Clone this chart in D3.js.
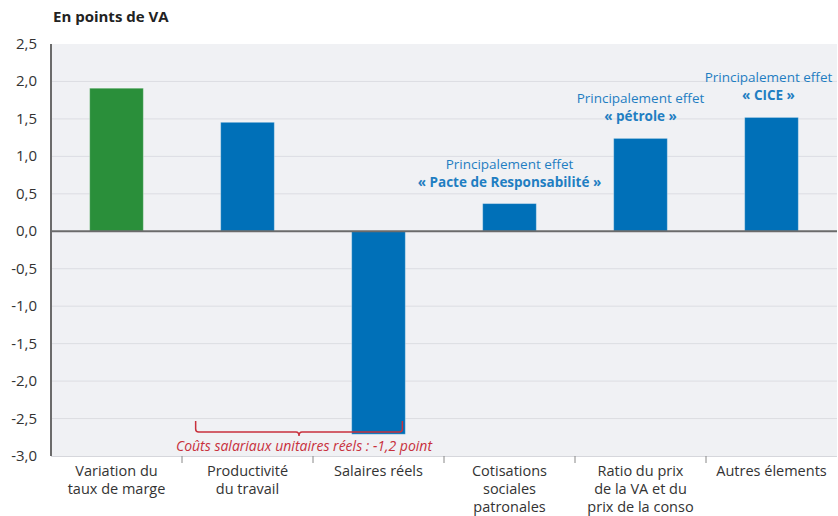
<!DOCTYPE html>
<html><head><meta charset="utf-8">
<script src="https://cdn.jsdelivr.net/npm/d3@7"></script>
<style>
body{margin:0;background:#fff;}
svg{display:block;font-family:"Open Sans",sans-serif;}
</style></head><body>
<svg id="c" width="838" height="516"></svg>
<script>
const categories = [["Variation du","taux de marge"],["Productivité","du travail"],["Salaires réels"],["Cotisations","sociales","patronales"],["Ratio du prix","de la VA et du","prix de la conso"],["Autres élements"]];
const values = [1.91, 1.455, -2.71, 0.37, 1.24, 1.52];
const barColors = ["#2a8f3a","#0070b8","#0070b8","#0070b8","#0070b8","#0070b8"];
const yTicks = [2.5,2.0,1.5,1.0,0.5,0,-0.5,-1.0,-1.5,-2.0,-2.5,-3.0];
const annotations = [{i:3, l1:"Principalement effet", l2:"« Pacte de Responsabilité »"},{i:4, l1:"Principalement effet", l2:"« pétrole »"},{i:5, l1:"Principalement effet", l2:"« CICE »"}];
const braceFrom = 1, braceTo = 2;
const braceText = "Coûts salariaux unitaires réels : -1,2 point";

const svg = d3.select("#c");
const L=51, R=837, T=44, B=456;
const x = d3.scaleBand().domain(d3.range(categories.length)).range([L,R]).paddingInner(0.59).paddingOuter(0.295);
const xb = d3.scaleBand().domain(d3.range(categories.length)).range([L,R]);
const y = d3.scaleLinear().domain([-3,2.5]).range([B,T]);

svg.append("rect").attr("x",L).attr("y",T).attr("width",R-L).attr("height",B-T).attr("fill","#f0f1f4");
// gridlines
svg.append("g").selectAll("line").data(yTicks.filter(d=>d!==0&&d!==2.5&&d!==-3)).join("line")
 .attr("x1",L).attr("x2",R).attr("y1",d=>y(d)).attr("y2",d=>y(d)).attr("stroke","#dcdde2").attr("stroke-width",1);
// bottom line
svg.append("line").attr("x1",L).attr("x2",R).attr("y1",B+0.5).attr("y2",B+0.5).attr("stroke","#d6d7dc");

// bars
svg.append("g").selectAll("rect").data(values).join("rect")
 .attr("x",(d,i)=>x(i)).attr("width",x.bandwidth())
 .attr("y",d=>y(Math.max(0,d))).attr("height",d=>Math.abs(y(d)-y(0)))
 .attr("fill",(d,i)=>barColors[i]).attr("stroke","rgba(255,255,255,0.35)").attr("stroke-width",1);

// zero line
svg.append("line").attr("x1",L).attr("x2",R).attr("y1",y(0)).attr("y2",y(0)).attr("stroke","#6b6b6b").attr("stroke-width",2);
// y axis line
svg.append("line").attr("x1",L).attr("x2",L).attr("y1",T).attr("y2",B).attr("stroke","#6b6b6b").attr("stroke-width",2);

// y tick labels
const fmt = d=>d3.format(".1f")(d).replace(".",",").replace("−","-");
svg.append("g").selectAll("text").data(yTicks).join("text")
 .attr("x",37).attr("y",d=>y(d)+5).attr("text-anchor","end").attr("font-size",15).attr("fill","#333").text(fmt);

// x ticks (separators)
svg.append("g").selectAll("line").data(d3.range(1,categories.length)).join("line")
 .attr("x1",i=>xb(i)).attr("x2",i=>xb(i)).attr("y1",B).attr("y2",B+7).attr("stroke","#888").attr("stroke-width",1);

// category labels (one text per line)
const catLines = categories.flatMap((lines,i)=>lines.map((s,k)=>({s,i,k})));
svg.append("g").selectAll("text").data(catLines).join("text")
 .attr("text-anchor","middle").attr("font-size",14.5).attr("fill","#333")
 .attr("x",d=>xb(d.i)+xb.bandwidth()/2).attr("y",d=>476+d.k*18).text(d=>d.s);

// title
svg.append("text").attr("x",53).attr("y",22).attr("font-size",15).attr("font-weight","bold").attr("fill","#222").text("En points de VA");

// annotations
annotations.forEach(a=>{
  const cx = x(a.i)+x.bandwidth()/2 - (a.i===5?3:0);
  const top = y(values[a.i]);
  svg.append("text").attr("x",cx).attr("y",top-35).attr("text-anchor","middle").attr("font-size",13.5).attr("fill","#1f7ec2").text(a.l1);
  svg.append("text").attr("x",cx).attr("y",top-17).attr("text-anchor","middle").attr("font-size",13.5).attr("font-weight","bold").attr("fill","#1f7ec2").text(a.l2);
});

// brace
const bx1 = x(braceFrom)-25, bx2 = x(braceTo)+x.bandwidth()-3;
const by = 432, bm=(bx1+bx2)/2;
svg.append("path").attr("d",`M${bx1},${by-11} L${bx1},${by-3} Q${bx1},${by} ${bx1+3},${by} L${bm-3},${by} Q${bm},${by} ${bm},${by+4} Q${bm},${by} ${bm+3},${by} L${bx2-3},${by} Q${bx2},${by} ${bx2},${by-3} L${bx2},${by-11}`)
 .attr("fill","none").attr("stroke","#c8303c").attr("stroke-width",1.5);
svg.append("text").attr("x",bm+5).attr("y",451).attr("text-anchor","middle").attr("font-size",14).attr("font-style","italic").attr("fill","#c8303c").text(braceText);
</script>
</body></html>
